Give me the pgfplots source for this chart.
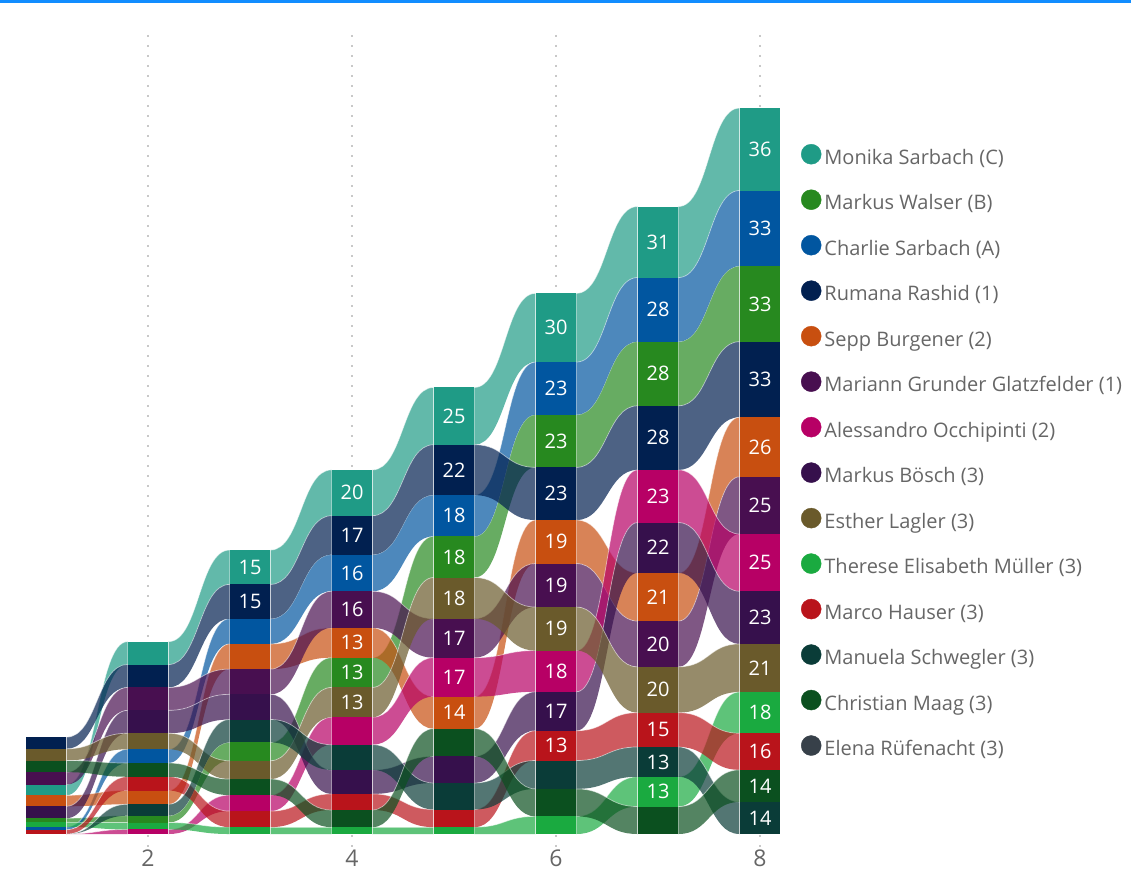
\documentclass[border=0pt]{standalone}
\usepackage{pgfplots}
\pgfplotsset{compat=1.18}
\usepackage{fontspec}
\setmainfont{Open Sans}

\definecolor{sera}{HTML}{1F9B86}% Monika Sarbach (C)
\definecolor{serb}{HTML}{27891F}% Markus Walser (B)
\definecolor{serc}{HTML}{0156A0}% Charlie Sarbach (A)
\definecolor{serd}{HTML}{012050}% Rumana Rashid (1)
\definecolor{sere}{HTML}{C84F10}% Sepp Burgener (2)
\definecolor{serf}{HTML}{480F50}% Mariann Grunder Glatzfelder (1)
\definecolor{serg}{HTML}{B70065}% Alessandro Occhipinti (2)
\definecolor{serh}{HTML}{36104C}% Markus Boesch (3)
\definecolor{seri}{HTML}{6A5A2B}% Esther Lagler (3)
\definecolor{serj}{HTML}{1AAA40}% Therese Elisabeth Mueller (3)
\definecolor{serk}{HTML}{B9141B}% Marco Hauser (3)
\definecolor{serl}{HTML}{0A3C38}% Manuela Schwegler (3)
\definecolor{serm}{HTML}{0B501F}% Christian Maag (3)
\definecolor{sern}{HTML}{374049}% Elena Ruefenacht (3)
\definecolor{txtgray}{HTML}{666666}
\definecolor{gridgray}{HTML}{C8C8C8}
\definecolor{topblue}{HTML}{118DFF}

\newcommand\labelfont{\fontsize{20bp}{20bp}\selectfont}
\newcommand\legfont{\fontsize{20bp}{20bp}\selectfont}
\newcommand\tickfont{\fontsize{23bp}{23bp}\selectfont}

% values per column, listed from the bottom of the stack to the top
\newcommand\setcol[2]{%
  \gdef\acc{0}%
  \foreach \s/\v in {#2}{%
    \expandafter\xdef\csname B-\s-#1\endcsname{\acc}%
    \pgfmathsetmacro\tmpsum{\acc+\v}%
    \xdef\acc{\tmpsum}%
    \expandafter\xdef\csname T-\s-#1\endcsname{\acc}%
    \expandafter\xdef\csname V-\s-#1\endcsname{\v}%
  }%
  \expandafter\xdef\csname TOT-#1\endcsname{\acc}%
}
\setcol{1}{g/0, l/0, k/1.9, c/1.2, j/2, b/1.8, h/5.2, e/4.8, a/4.7, f/5.4, m/5.1, i/5.1, d/5.1}
\setcol{2}{g/2, j/3, b/3, l/5, e/6, k/6, m/6, c/6, i/7, h/10, f/10, d/10, a/10}
\setcol{3}{j/3, k/7, g/7, m/7, i/8, b/8, l/10, h/11, f/11, e/11, c/11, d/15, a/15}
\setcol{4}{j/3, m/7.5, k/7, h/10.5, l/11, g/12, i/13, b/13, e/13, f/16, c/16, d/17, a/20}
\setcol{5}{j/3, k/7.7, l/11.6, h/11.6, m/12.1, e/14, g/17, f/17, i/18, b/18, c/18, d/22, a/25}
\setcol{6}{j/7.7, m/12, l/12.4, k/13, h/17, g/18, i/19, f/19, e/19, d/23, b/23, c/23, a/30}
\setcol{7}{m/12, j/13, l/13, k/15, i/20, f/20, e/21, h/22, g/23, d/28, b/28, c/28, a/31}
\setcol{8}{l/14, m/14, k/16, j/18, i/21, h/23, g/25, f/25, e/26, d/33, b/33, c/33, a/36}

\newcommand\drawribbon[3]{% series, column i, column j
  \ifcsname V-#1-#2\endcsname\ifcsname V-#1-#3\endcsname
    \pgfmathsetmacro\xa{#2+0.2}\pgfmathsetmacro\xb{#3-0.2}\pgfmathsetmacro\xm{(#2+#3)/2}%
    \edef\ya{\csname B-#1-#2\endcsname}\edef\yA{\csname T-#1-#2\endcsname}%
    \edef\yb{\csname B-#1-#3\endcsname}\edef\yB{\csname T-#1-#3\endcsname}%
    \edef\tmp{\noexpand\fill[ser#1, fill opacity=0.7] (\xa,\yA) .. controls (\xm,\yA) and (\xm,\yB) .. (\xb,\yB)
      -- (\xb,\yb) .. controls (\xm,\yb) and (\xm,\ya) .. (\xa,\ya) -- cycle;
      \noexpand\draw[white, line width=0.7bp, opacity=0.55] (\xa,\yA) .. controls (\xm,\yA) and (\xm,\yB) .. (\xb,\yB);}%
    \tmp
  \fi\fi}

\newcommand\drawbar[2]{% series, column
  \ifcsname V-#1-#2\endcsname
    \edef\vv{\csname V-#1-#2\endcsname}%
    \pgfmathparse{\vv>0?1:0}%
    \ifnum\pgfmathresult=1
      \pgfmathsetmacro\xl{#2-0.2}\pgfmathsetmacro\xr{#2+0.2}%
      \edef\yl{\csname B-#1-#2\endcsname}\edef\yu{\csname T-#1-#2\endcsname}%
      \edef\tmp{\noexpand\addplot[forget plot, fill=ser#1, draw=none] coordinates {(\xl,\yl) (\xr,\yl) (\xr,\yu) (\xl,\yu)} -- cycle;}%
      \tmp
      \pgfmathparse{\vv>=13?1:0}%
      \ifnum\pgfmathresult=1
        \pgfmathsetmacro\ym{(\yl+\yu)/2}%
        \edef\tmp{\noexpand\node[font=\noexpand\labelfont, text=white, inner sep=0pt] at (#2,\ym) {\vv};}%
        \tmp
      \fi
    \fi
  \fi}

\begin{document}
\begin{tikzpicture}
\begin{axis}[
  width=1131bp, height=891bp, scale only axis,
  xmin=0.54902, xmax=11.63725, ymin=-24.891, ymax=364.192,
  axis line style={draw=none}, major tick length=0pt,
  xtick={2,4,6,8}, ytick=\empty,
  xticklabel style={anchor=center, yshift=32.5bp, font=\tickfont, text=txtgray},
  /pgf/number format/assume math mode=true,
  clip=false,
  legend cell align=left,
  legend image code/.code={\fill[#1] (10bp,0.36em) circle (10bp);},
  legend style={at={(axis cs:8.402,301.3)}, anchor=north west, draw=none, fill=none,
    inner sep=0pt, outer sep=0pt, row sep=20.2bp, font=\legfont, text=txtgray,
    nodes={inner sep=0pt, text height=18bp, text depth=5bp},
    /tikz/every odd column/.append style={column sep=3bp}},
]
% top accent line
\addplot[forget plot, draw=topblue, line width=3bp] coordinates {(0.54902,363.54) (11.63725,363.54)};
% dotted grid lines
\foreach \g in {2,4,6,8}{%
  \edef\tmp{\noexpand\addplot[forget plot, draw=gridgray, line width=2bp, dash pattern=on 2bp off 8bp] coordinates {(\g,349) (\g,-6)};}\tmp}
% ribbons
\foreach \s in {a,b,c,d,e,f,g,h,i,j,k,l,m}{%
  \foreach \c [evaluate=\c as \cn using int(\c+1)] in {1,...,7}{%
    \drawribbon{\s}{\c}{\cn}}}
% bars and labels
\foreach \c in {1,...,8}{%
  \foreach \s in {a,b,c,d,e,f,g,h,i,j,k,l,m}{\drawbar{\s}{\c}}}
% light edge lines of the bars
\foreach \c/\e in {1/0.2,2/0.2,3/0.2,4/0.2,5/-0.2,6/-0.2,7/-0.2,8/-0.2}{%
  \pgfmathsetmacro\xe{\c+\e}%
  \edef\tmp{\noexpand\addplot[forget plot, draw=white, opacity=0.55, line width=1bp] coordinates {(\xe,0) (\xe,\csname TOT-\c\endcsname)};}\tmp}
% legend
\addlegendimage{sera}\addlegendentry{Monika Sarbach (C)}
\addlegendimage{serb}\addlegendentry{Markus Walser (B)}
\addlegendimage{serc}\addlegendentry{Charlie Sarbach (A)}
\addlegendimage{serd}\addlegendentry{Rumana Rashid (1)}
\addlegendimage{sere}\addlegendentry{Sepp Burgener (2)}
\addlegendimage{serf}\addlegendentry{Mariann Grunder Glatzfelder (1)}
\addlegendimage{serg}\addlegendentry{Alessandro Occhipinti (2)}
\addlegendimage{serh}\addlegendentry{Markus Bösch (3)}
\addlegendimage{seri}\addlegendentry{Esther Lagler (3)}
\addlegendimage{serj}\addlegendentry{Therese Elisabeth Müller (3)}
\addlegendimage{serk}\addlegendentry{Marco Hauser (3)}
\addlegendimage{serl}\addlegendentry{Manuela Schwegler (3)}
\addlegendimage{serm}\addlegendentry{Christian Maag (3)}
\addlegendimage{sern}\addlegendentry{Elena Rüfenacht (3)}
\end{axis}
\pgfresetboundingbox
\path (current axis.south west) rectangle (current axis.north east);
\end{tikzpicture}
\end{document}
